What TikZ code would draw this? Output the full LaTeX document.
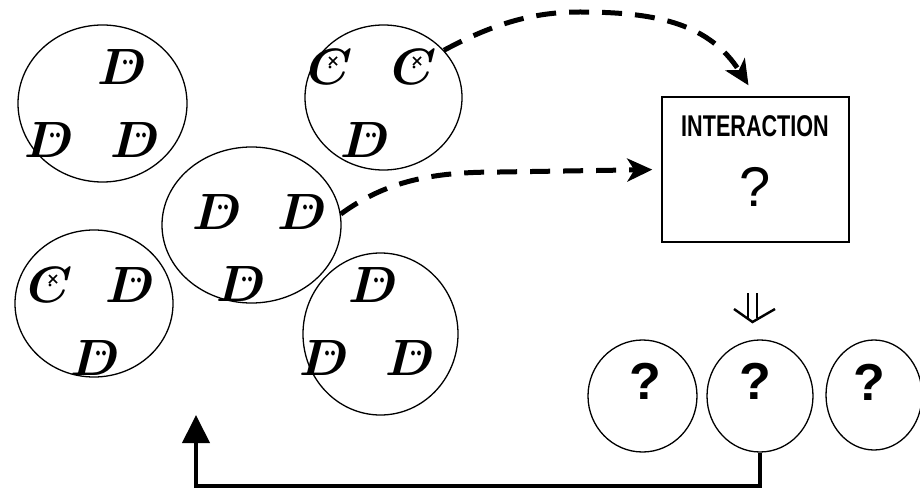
\RequirePackage{fix-cm}
\documentclass[tikz,border=0pt]{standalone}
\usepackage{fontspec}
\usepackage{graphicx}
\newfontfamily\sansf{Liberation Sans}
\usetikzlibrary{shapes.geometric,arrows.meta,calc}
\tikzset{
  grp/.style={ellipse, draw, line width=1.3pt, inner sep=0pt},
  letter/.style={inner sep=0pt, font=\fontsize{51}{51}\selectfont\boldmath},
  qmark/.style={inner sep=0pt, font=\sansf\bfseries\fontsize{52}{52}\selectfont},
  dashline/.style={line width=5pt, dash pattern=on 20pt off 13pt,
    -{Stealth[length=25pt,width=23pt,inset=7pt]}},
  dglyph/.pic={
    \node[letter] (-l) {$D$};
    \fill (3,-5) ellipse (1.9pt and 2.4pt);
    \fill (9,-5) ellipse (1.9pt and 2.4pt);
  },
  cglyph/.pic={
    \node[letter] (-l) {$C$};
    \draw[line width=1.7pt] (-1,-10) -- (7,-2) (-1,-2) -- (7,-10);
    \fill (0,0) circle (1.6pt);
  }
}
\begin{document}
\begin{tikzpicture}[x=1pt,y=-1pt]
\useasboundingbox (0,0) rectangle (920,489);
% groups
\node[grp, minimum width=169pt, minimum height=157pt] (g1) at (102.5,103.5) {};
\node[grp, minimum width=157pt, minimum height=145pt] (g2) at (383.5,97.5) {};
\node[grp, minimum width=179pt, minimum height=156pt] (g3) at (251.5,225) {};
\node[grp, minimum width=158pt, minimum height=147pt] (g4) at (94,303.5) {};
\node[grp, minimum width=155pt, minimum height=162pt] (g5) at (380.5,334) {};
% letters
\pic (a1) at (122,67) {dglyph};
\pic (a2) at (49,140) {dglyph};
\pic (a3) at (135,140) {dglyph};
\pic (b1) at (330,67) {cglyph};
\pic (b2) at (414,67) {cglyph};
\pic (b3) at (365,140) {dglyph};
\pic (c1) at (217,212) {dglyph};
\pic (c2) at (302,212) {dglyph};
\pic (c3) at (241,284) {dglyph};
\pic (d1) at (50,285) {cglyph};
\pic (d2) at (130,285) {dglyph};
\pic (d3) at (95,358) {dglyph};
\pic (e1) at (373,285) {dglyph};
\pic (e2) at (324,358) {dglyph};
\pic (e3) at (410,358) {dglyph};
% interaction box
\node[draw, line width=1.4pt, minimum width=187pt, minimum height=145pt, inner sep=0pt] (box) at (755.5,169.5) {};
\node[inner sep=0pt] (lbl) at (755,126) {\scalebox{0.72}[1]{\sansf\bfseries\fontsize{30}{30}\selectfont INTERACTION}};
\node[inner sep=0pt, font=\sansf\fontsize{56}{56}\selectfont] (bq) at (755,187) {?};
% outcome circles
\node[grp, minimum width=109pt, minimum height=112pt] (qA) at (642.5,396) {};
\node[grp, minimum width=106pt, minimum height=112pt] (qB) at (760,396) {};
\node[grp, minimum width=96pt, minimum height=110pt] (qC) at (874,395) {};
\node[qmark] (q1) at (645,381) {?};
\node[qmark] (q2) at (755,381) {?};
\node[qmark] (q3) at (869,382) {?};
% double arrow
\draw[line width=2.2pt] (748,293) -- (748,318) (757,293) -- (757,318);
\draw[line width=2.4pt, line join=miter] (734,309) -- (752.5,322) -- (775,309);
% dashed arrows
\draw[dashline, shorten >=13pt] (g2.38) .. controls (500,20) and (540,12) .. (580,12)
   .. controls (660,12) and (710,25) .. (box.north);
\draw[dashline, shorten >=9pt] (g3.7) .. controls (390,178) and (440,172) .. (500,172) -- (box.west);
% return arrow
\coordinate (ret) at (196,415);
\draw[line width=4pt, line join=miter, -{Triangle[length=28pt,width=27pt]}]
   (qB.south) -- ++(0,33) -| (ret);
\end{tikzpicture}
\end{document}
